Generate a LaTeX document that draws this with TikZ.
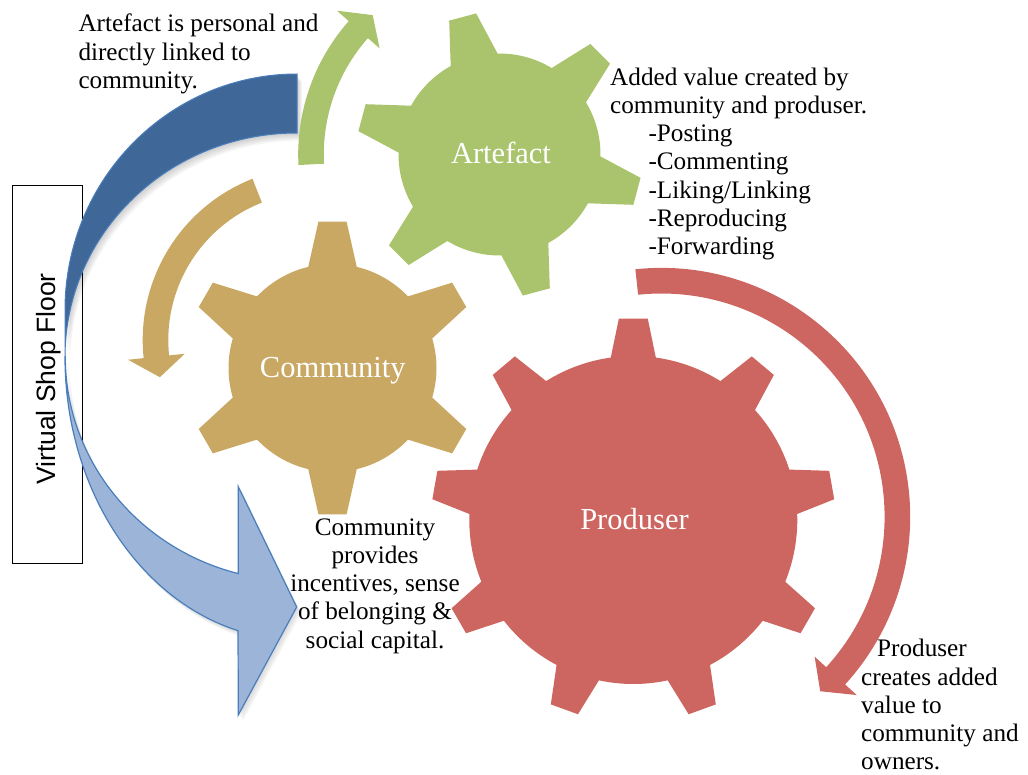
\documentclass[tikz,border=0pt]{standalone}
\usepackage{fontspec}
\setmainfont{Liberation Serif}
\setsansfont{Liberation Sans}
\usetikzlibrary{calc}
\definecolor{gearGreen}{HTML}{A9C46C}
\definecolor{gearTan}{HTML}{C9A864}
\definecolor{gearRed}{HTML}{CD6660}
\definecolor{shopDark}{HTML}{3F6899}
\definecolor{shopLight}{HTML}{9CB4D8}
\definecolor{shopEdge}{HTML}{4A7EBB}
% #1 centre, #2 teeth, #3 body radius, #4 tip radius, #5 first tooth, #6 half base, #7 half tip, #8 colour
\newcommand{\gear}[8]{%
  \fill[#8]($(#1)+(#5-#6:#3)$)
    \foreach\k[evaluate=\k as\ang using #5+360*(\k-1)/#2]in{1,...,#2}{
      --($(#1)+(\ang-#7:#4)$)--($(#1)+(\ang+#7:#4)$)--($(#1)+(\ang+#6:#3)$)
      arc[start angle=\ang+#6,end angle=\ang+360/#2-#6,radius=#3]}--cycle;}
% #1 centre, #2 radius, #3 from, #4 to, #5 tip angle, #6 colour
\newcommand{\roundarrow}[6]{%
  \fill[#6]($(#1)+(#3:#2+12.8)$)arc[start angle=#3,end angle=#4,radius=#2+12.8]
    --($(#1)+(#4:#2+28.5)$)--($(#1)+(#5:#2)$)--($(#1)+(#4:#2-28.5)$)
    --($(#1)+(#4:#2-12.8)$)arc[start angle=#4,end angle=#3,radius=#2-12.8]--cycle;}
\begin{document}
\begin{tikzpicture}
  [x=1pt,y=1pt,
   txt/.style={inner sep=0,font=\fontsize{25.2}{28.3}\selectfont},
   lbl/.style={inner sep=0,text=white,anchor=base,font=\fontsize{30.5}{32}\selectfont}]
  \useasboundingbox(0,0)rectangle(1028,-774);
  \coordinate(A)at(499.5,-154.5);
  \coordinate(C)at(332.5,-368);
  \coordinate(P)at(633.3,-520);
  \coordinate(At)at(499.5,-154.5);
  \coordinate(Ct)at(316,-340);
  \coordinate(Pt)at(661.4,-516.7);
  \node[draw,line width=1,minimum width=70,minimum height=378,inner sep=0,name=shop]at(47,-374){};
  \node[rotate=90,anchor=base,inner sep=0,font=\sffamily\fontsize{26.5}{28}\selectfont,name=floor]at(55.7,-379){Virtual Shop Floor};
  % shop floor arrow
  \foreach\s in{1,...,5}{
    \fill[black,opacity=.04,xshift=\s*1,yshift=-\s*1.5](297,-74)arc[start angle=90,end angle=180,x radius=232,y radius=236]
      --(65,-357)arc[start angle=180,end angle=90,x radius=232,y radius=224]--cycle;
    \fill[black,opacity=.03,xshift=\s*.9,yshift=-\s*1.3](65,-357)arc[start angle=180,end angle=255.27,x radius=232,y radius=283]
      --(238.3,-715)--(296.7,-607)--(238.3,-486.7)--(238.3,-573.6)arc[start angle=255.27,end angle=180,x radius=232,y radius=224]--cycle;}
  \filldraw[fill=shopDark,draw=shopEdge,line width=1](297,-74)arc[start angle=90,end angle=180,x radius=232,y radius=236]
    --(65,-357)arc[start angle=180,end angle=90,x radius=232,y radius=224]--cycle;
  \filldraw[fill=shopLight,draw=shopEdge,line width=1.2](65,-357)arc[start angle=180,end angle=255.27,x radius=232,y radius=283]
    --(238.3,-715)--(296.7,-607)--(238.3,-486.7)--(238.3,-573.6)arc[start angle=255.27,end angle=180,x radius=232,y radius=224]--cycle;
  \gear{A}{6}{101}{143}{45}{13.9}{5.6}{gearGreen}
  \gear{C}{6}{104}{147}{90}{13.5}{5.5}{gearTan}
  \gear{P}{9}{164}{202}{10}{7.9}{4.1}{gearRed}
  \roundarrow{At}{188.5}{183}{138.5}{132.3}{gearGreen}
  \roundarrow{Ct}{160.5}{111.5}{186}{193.4}{gearTan}
  \roundarrow{Pt}{236}{96}{-42.4}{-47.7}{gearRed}
  \node[lbl,name=artefact]at(501,-163.3){Artefact};
  \node[lbl,name=community]at(332.8,-377.7){Community};
  \node[lbl,name=produser]at(634.5,-529.3){Produser};
  \node[txt,anchor=base west,name=linked]at(78.3,-31.7){\begin{tabular}[t]{@{}l@{}}Artefact is personal and\\directly linked to\\community.\end{tabular}};
  \node[txt,anchor=base west,name=added]at(610,-85){\begin{tabular}[t]{@{}l@{}}Added value created by\\community and produser.\\
    \hspace*{38.3pt}-Posting\\\hspace*{38.3pt}-Commenting\\\hspace*{38.3pt}-Liking/Linking\\\hspace*{38.3pt}-Reproducing\\\hspace*{38.3pt}-Forwarding\end{tabular}};
  \node[txt,anchor=base,name=incent]at(375,-535){\begin{tabular}[t]{@{}c@{}}Community\\provides\\incentives, sense\\of belonging \&\\social capital.\end{tabular}};
  \node[txt,anchor=base west,name=creates]at(861,-656.7){\begin{tabular}[t]{@{}l@{}}\hspace*{16pt}Produser\\creates added\\value to\\community and\\owners.\end{tabular}};
\end{tikzpicture}
\end{document}
